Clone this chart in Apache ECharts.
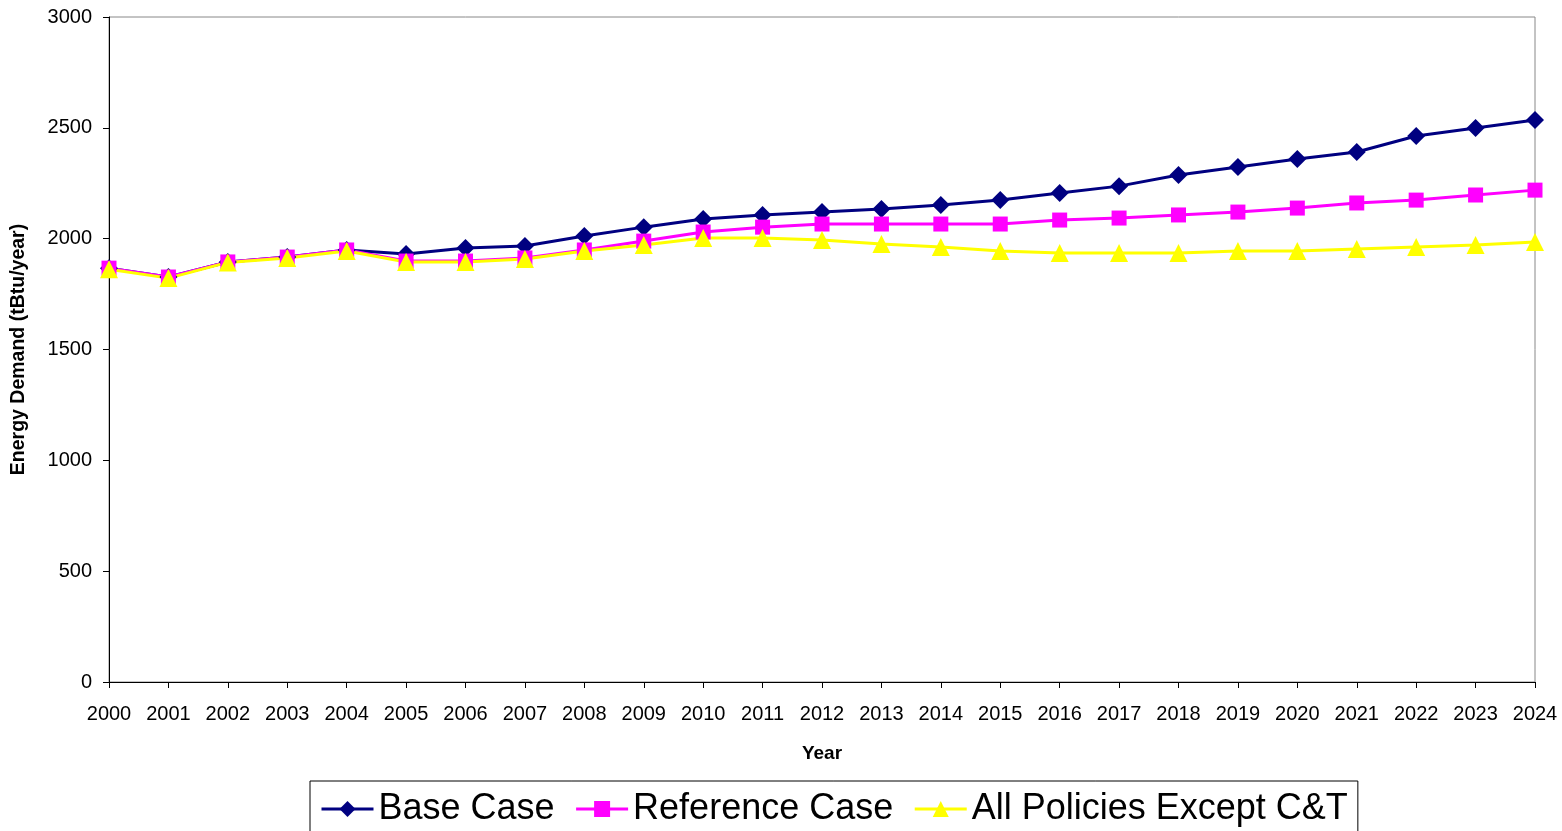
<!DOCTYPE html>
<html><head><meta charset="utf-8">
<script src="https://cdn.jsdelivr.net/npm/echarts@6/dist/echarts.min.js"></script>
<style>html,body{margin:0;padding:0;background:#fff}#c{width:1562px;height:831px}</style>
</head><body><div id="c"></div>
<script>
var years = ['2000','2001','2002','2003','2004','2005','2006','2007','2008','2009','2010','2011','2012','2013','2014','2015','2016','2017','2018','2019','2020','2021','2022','2023','2024'];
var baseCase = [1867,1827,1895,1917,1949,1931,1958,1967,2012,2052,2089,2107,2120,2134,2152,2174,2206,2237,2287,2323,2359,2391,2463,2499,2535];
var referenceCase = [1867,1827,1895,1917,1949,1899,1899,1913,1949,1989,2030,2052,2066,2066,2066,2066,2084,2093,2107,2120,2138,2161,2174,2197,2219];
var allPolicies = [1862,1822,1893,1913,1944,1895,1895,1908,1944,1971,2003,2003,1994,1976,1962,1944,1935,1935,1935,1944,1944,1953,1962,1971,1985];
var seriesNames = ['Base Case','Reference Case','All Policies Except C&T'];

var chart = echarts.init(document.getElementById('c'), null, {renderer:'canvas'});
var font = 'Arial, "Liberation Sans", sans-serif';
chart.setOption({
  animation:false,
  textStyle:{fontFamily:font},
  grid:{left:109,right:27,top:17,bottom:149,show:true,borderColor:'#888',borderWidth:1},
  legend:{
    top:781,left:310,
    data:seriesNames,
    borderColor:'#000',borderWidth:1,
    padding:[10,10,14,10],
    itemGap:20,itemWidth:52,itemHeight:20,
    lineStyle:{width:3},
    textStyle:{fontSize:36,color:'#000',fontFamily:font}
  },
  xAxis:{
    type:'category',data:years,boundaryGap:false,
    name:'Year',nameLocation:'middle',nameGap:62,
    nameTextStyle:{fontSize:19,fontWeight:'bold',color:'#000'},
    axisLine:{lineStyle:{color:'#000',width:1}},
    axisTick:{show:true,alignWithLabel:true,length:6,lineStyle:{color:'#000'}},
    axisLabel:{fontSize:20,color:'#000',margin:22,interval:0},
    splitLine:{show:false}
  },
  yAxis:{
    type:'value',min:0,max:3000,interval:500,
    name:'Energy Demand (tBtu/year)',nameLocation:'middle',nameGap:80,
    nameTextStyle:{fontSize:19.5,fontWeight:'bold',color:'#000'},
    axisLine:{show:true,lineStyle:{color:'#000',width:1}},
    axisTick:{show:true,length:6,lineStyle:{color:'#000'}},
    axisLabel:{fontSize:20,color:'#000',margin:17,formatter:function(v){return String(v);}},
    splitLine:{show:false}
  },
  series:[
    {name:seriesNames[0],type:'line',data:baseCase,symbol:'diamond',symbolSize:18,
     lineStyle:{color:'#000080',width:3},itemStyle:{color:'#000080'}},
    {name:seriesNames[1],type:'line',data:referenceCase,symbol:'rect',symbolSize:15,
     lineStyle:{color:'#ff00ff',width:3},itemStyle:{color:'#ff00ff'}},
    {name:seriesNames[2],type:'line',data:allPolicies,symbol:'triangle',symbolSize:18,
     lineStyle:{color:'#ffff00',width:3},itemStyle:{color:'#ffff00'}}
  ]
});
</script></body></html>
